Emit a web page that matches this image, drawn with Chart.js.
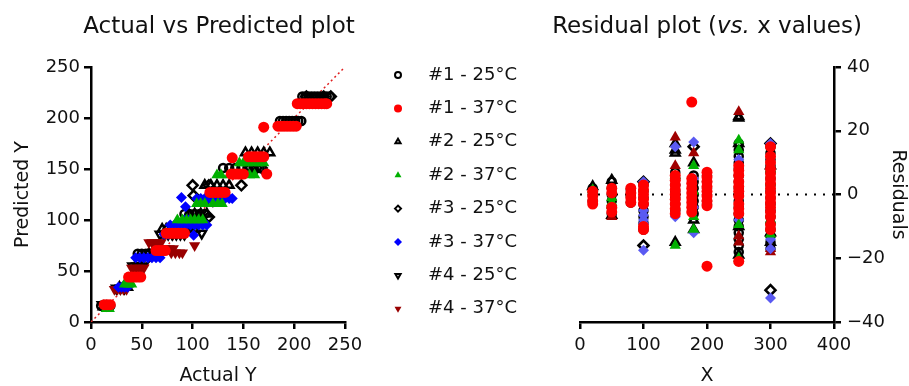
<!DOCTYPE html>
<html>
<head>
<meta charset="utf-8">
<title>Actual vs Predicted / Residuals</title>
<script src="https://cdn.jsdelivr.net/npm/chart.js@4.4.1/dist/chart.umd.min.js"></script>
<style>
  body { margin: 0; background: #fff; font-family: "DejaVu Sans", sans-serif; }
  #wrap { position: relative; width: 909px; height: 386px; overflow: hidden; }
  .plot-title { position: absolute; top: 12px; font-size: 23px; line-height: 27px; color: #111;
                white-space: nowrap; transform: translateX(-50%); }
  #leftBox { position: absolute; left: 0; top: 0; width: 545px; height: 386px; }
  #rightBox { position: absolute; left: 540px; top: 0; width: 369px; height: 386px; }
</style>
</head>
<body>
<div id="wrap">
  <div id="leftBox"><canvas id="avpChart"></canvas></div>
  <div id="rightBox"><canvas id="residualChart"></canvas></div>
  <div class="plot-title" style="left:219px">Actual vs Predicted plot</div>
  <div class="plot-title" style="left:707px">Residual plot (<i>vs.</i> x values)</div>
</div>
<script>
// ===================== data =====================
const seriesNames = ['#1 - 25°C', '#1 - 37°C', '#2 - 25°C', '#2 - 37°C',
                     '#3 - 25°C', '#3 - 37°C', '#4 - 25°C', '#4 - 37°C'];

// actual vs predicted: [predicted, [actual values...]]
const avp1at25 = [[16, [10, 13, 16, 19]], [67, [46, 50, 54, 58]], [106, [92, 97, 102, 107, 112]],
  [151, [130, 136, 142, 148, 154, 160, 166]], [197, [186, 189, 192, 195, 198, 201, 204, 207]],
  [221, [208, 211, 214, 217, 220, 223, 226, 229, 232, 235]]];
const avp1at37 = [[17, [13, 16, 19]], [44, [37, 40, 43, 46, 49]], [70, [64, 67, 70, 73]],
  [87, [74, 77, 80, 83, 86, 89, 92]], [127, [117, 120, 123, 126, 129, 132]], [145, [138, 141, 144, 147, 150]],
  [162, [155, 158, 161, 164, 167, 170]], [192, [184, 187, 190, 193, 196, 199, 202]],
  [214, [203, 206, 209, 212, 215, 218, 221, 224, 227, 230, 232]], [161, [139]], [145, [173]], [191, [170]]];
const avp2at25 = [[15, [12, 15]], [34, [28, 32, 36]], [91, [70, 74, 78, 82, 86, 90, 94, 98, 102]],
  [106, [96, 102, 108, 114]], [134, [112, 118, 124, 130, 136]], [166, [152, 158, 164, 170, 176]]];
const avp2at37 = [[13, [15, 18]], [37, [33, 37, 40]], [100, [85, 90, 94, 98, 102, 106, 110]],
  [116, [104, 108, 112, 120, 125, 129]], [144, [124, 128, 136, 156, 161]], [156, [146, 150, 154, 160, 166, 170]]];
const avp3at25 = [[60, [48, 53]], [67, [57, 62, 66]], [134, [100, 116, 148]], [124, [101]], [103, [116]],
  [151, [157, 163, 168]], [221, [212, 229, 236]]];
const avp3at37 = [[34, [27, 30, 33, 36]], [63, [44, 48, 52, 56, 60, 64, 68]], [86, [72, 76]],
  [95, [78, 82, 86, 90, 94, 98, 102, 106, 110, 114]], [100, [92, 96]],
  [121, [104, 108, 112, 116, 120, 124, 128, 132, 136, 139]], [122, [89]], [113, [93]], [85, [101]]];
const avp4at25 = [[17, [11, 15]], [33, [25, 29, 33]], [55, [41, 45, 49]], [86, [68, 72, 76, 80, 84, 88, 92]],
  [87, [109]], [119, [108, 114, 120]]];
const avp4at37 = [[32, [23, 26, 29, 32, 35]], [53, [40, 43, 46, 49, 52]], [78, [57, 60, 63, 66, 69]],
  [72, [73, 77, 81]], [68, [79, 83, 87, 90]], [75, [102]]];

// residuals: [x, [residual values...]]
const res1at25 = [[20, [2, 0, -2]], [50, [4, 2, 0, -2, -4, -6]], [80, [1.5, -0.5, -2.5]],
  [100, [3, 1, -1, -3, -5, -7, -9, -11]], [150, [7, 5, 3, 1, -1, -3, -5]], [179, [6, 4, 2, 0, -2, -4, -6]],
  [200, [6, 4, 2, 0, -2, -3]],
  [250, [16, 14, 12, 10, 8, 6, 4, 2, 0, -2, -4, -6, -8, -10, -12, -14, -16, -18]],
  [300, [15, 13, 11, 9, 7, 5, 3, 1, -1, -3, -5, -7, -9, -11, -13, -15, -17]]];
const res1at37 = [[20, [1, -0.5, -2, -3]], [50, [2, 0.5, -4, -5.5]], [80, [2, 0.5, -1, -2.5]],
  [100, [3, 1.5, 0, -1.5, -3, -10, -11]], [150, [6, 4.5, 3, 1.5, 0, -1.5, -3, -4.5, -6]],
  [176, [29, 5, 3.5, 2, 0.5, -1, -2.5, -4, -5.5]], [200, [7, 5.5, 4, 2.5, 1, -0.5, -2, -3.5, -22.5]],
  [250, [9, 7.5, 6, 4, 2.5, 1, -0.5, -3, -4.5, -6, -21]],
  [300, [15, 12, 10, 8, 6.5, 5, 3.5, 2, 0.5, -1, -2.5, -4, -5.5, -7, -9.5, -11]]];
const res2at25 = [[20, [2.5]], [50, [4.5, -6.5]], [150, [16, 14, -15]], [179, [10, -8, -11]],
  [250, [24, 16, -10, -19]], [300, [9, -12]]];
const res2at37 = [[20, [1.5]], [50, [-1, -2.5, -3.5]], [150, [6, -16]], [179, [9, 1, -7, -11]],
  [250, [17, 14, -9.5, -20]], [300, [8, 4, -6, -8, -12.5]]];
const res3at25 = [[100, [4, -16]], [179, [15]], [300, [16, -30]]];
const res3at37 = [[100, [4, -3.5, -5, -6.5, -8, -9, -17.5]], [150, [15, 3, -7]], [179, [16.5, 5, -4, -12]],
  [250, [11, -8]], [300, [16, -14, -17, -32.5]]];
const res4at25 = [[150, [13]], [250, [24.5]], [300, [-15]]];
const res4at37 = [[50, [-7]], [150, [18, 9]], [179, [13]], [250, [26, -13, -15]], [300, [-17, -18]]];

const avpSeries = [avp1at25, avp1at37, avp2at25, avp2at37, avp3at25, avp3at37, avp4at25, avp4at37];
const resSeries = [res1at25, res1at37, res2at25, res2at37, res3at25, res3at37, res4at25, res4at37];

// ===================== styles =====================
const clear = 'rgba(0,0,0,0)';
const markerStyles = [
  { pointStyle: 'circle',   rotation: 0,   fill: clear,     border: '#000',    bw: 2.5, r: 4,   order: 8 },
  { pointStyle: 'circle',   rotation: 0,   fill: '#ff0000', border: '#ff0000', bw: 0,   r: 5.5, order: 1 },
  { pointStyle: 'triangle', rotation: 0,   fill: clear,     border: '#000',    bw: 2.5, r: 5,   order: 7 },
  { pointStyle: 'triangle', rotation: 0,   fill: '#00b000', border: '#00b000', bw: 0,   r: 6.5, order: 2 },
  { pointStyle: 'rectRot',  rotation: 0,   fill: clear,     border: '#000',    bw: 2.5, r: 5,   order: 6 },
  { pointStyle: 'rectRot',  rotation: 0,   fill: '#0000ff', border: '#0000ff', bw: 0,   r: 5.5, order: 3 },
  { pointStyle: 'triangle', rotation: 180, fill: clear,     border: '#000',    bw: 2.5, r: 5,   order: 5 },
  { pointStyle: 'triangle', rotation: 180, fill: '#990000', border: '#990000', bw: 0,   r: 6.5, order: 4 }
];

Chart.defaults.font.family = '"DejaVu Sans", sans-serif';
Chart.defaults.color = '#111';

function toPointsAvp(bands) {
  const pts = [];
  bands.forEach(([pred, actuals]) => actuals.forEach(a => pts.push({ x: a, y: pred })));
  return pts;
}

function toPointsRes(cols) {
  const pts = [];
  cols.forEach(([x, vals]) => vals.forEach(v => pts.push({ x: x, y: v })));
  return pts;
}

function makeDataset(i, points, overrides) {
  const s = Object.assign({}, markerStyles[i], overrides || {});
  return {
    label: seriesNames[i],
    data: points,
    pointStyle: s.pointStyle,
    rotation: s.rotation,
    backgroundColor: s.fill,
    borderColor: s.border,
    borderWidth: s.bw,
    pointRadius: s.r,
    pointHoverRadius: s.r,
    order: s.order
  };
}

function axis(opts) {
  return Object.assign({
    type: 'linear',
    grid: { drawOnChartArea: false, color: '#000', lineWidth: 2.5, tickLength: 7, tickWidth: 2.5 },
    border: { color: '#000', width: 2.5 },
  }, opts);
}

// legend drawn beside the left plot
const sideLegend = {
  id: 'sideLegend',
  afterDraw(chart) {
    const ctx = chart.ctx;
    ctx.save();
    ctx.font = '18px "DejaVu Sans", sans-serif';
    ctx.textBaseline = 'middle';
    seriesNames.forEach((name, i) => {
      const s = markerStyles[i];
      const y = 75 + i * 33.4;
      ctx.fillStyle = s.fill;
      ctx.strokeStyle = s.border;
      ctx.lineWidth = s.bw ? 2 : 0;
      Chart.helpers.drawPoint(ctx, {
        pointStyle: s.pointStyle, rotation: s.rotation,
        radius: s.bw ? 3 : 4, borderWidth: s.bw ? 2 : 0
      }, 398, y);
      ctx.fillStyle = '#111';
      ctx.fillText(name, 428, y);
    });
    ctx.restore();
  }
};

// ===================== actual vs predicted =====================
const avpDatasets = avpSeries.map((bands, i) => makeDataset(i, toPointsAvp(bands)));
avpDatasets.push({
  type: 'line',
  label: 'identity',
  data: [{ x: 0, y: 0 }, { x: 250, y: 250 }],
  borderColor: '#e02020',
  borderWidth: 1.5,
  borderDash: [2, 3],
  pointRadius: 0,
  order: 20
});

new Chart(document.getElementById('avpChart'), {
  type: 'scatter',
  data: { datasets: avpDatasets },
  options: {
    responsive: true,
    maintainAspectRatio: false,
    animation: false,
    layout: { padding: { left: 0, top: 67, right: 200, bottom: 0 } },
    plugins: { legend: { display: false }, tooltip: { enabled: false } },
    scales: {
      x: axis({
        min: 0, max: 250,
        ticks: { stepSize: 50, font: { size: 18 }, padding: 6 },
        title: { display: true, text: 'Actual Y', font: { size: 19, lineHeight: 1 }, padding: 0 },
        afterFit: s => { s.height = 64; }
      }),
      y: axis({
        min: 0, max: 250,
        ticks: { stepSize: 50, font: { size: 18 }, padding: 4 },
        title: { display: true, text: 'Predicted Y', font: { size: 19 }, padding: { top: 12, bottom: 0 } },
        afterFit: s => { s.width = 91; }
      })
    }
  },
  plugins: [sideLegend]
});

// ===================== residuals =====================
const resDatasets = resSeries.map((cols, i) => {
  let overrides;
  if (i === 5) overrides = { fill: '#5a5af2', border: '#5a5af2' };
  if (i === 6) overrides = { rotation: 0 };
  if (i === 7) overrides = { rotation: 0, fill: '#a00000', border: '#a00000' };
  return makeDataset(i, toPointsRes(cols), overrides);
});
resDatasets.push({
  type: 'line',
  label: 'zero',
  data: [{ x: 0, y: 0 }, { x: 400, y: 0 }],
  borderColor: '#000',
  borderWidth: 2,
  borderDash: [2, 7],
  pointRadius: 0,
  order: 20
});

new Chart(document.getElementById('residualChart'), {
  type: 'scatter',
  data: { datasets: resDatasets },
  options: {
    responsive: true,
    maintainAspectRatio: false,
    animation: false,
    layout: { padding: { left: 40, top: 67, right: 0, bottom: 0 } },
    plugins: { legend: { display: false }, tooltip: { enabled: false } },
    scales: {
      x: axis({
        min: 0, max: 400,
        ticks: { stepSize: 100, font: { size: 18 }, padding: 6 },
        title: { display: true, text: 'X', font: { size: 19, lineHeight: 1 }, padding: 0 },
        afterFit: s => { s.height = 64; }
      }),
      y: axis({
        position: 'right',
        min: -40, max: 40,
        ticks: {
          stepSize: 20, font: { size: 18 }, padding: 6,
          callback: v => String(v).replace('-', '\u2212')
        },
        title: { display: true, text: 'Residuals', font: { size: 19 }, padding: 0 },
        afterFit: s => { s.width = 75; }
      })
    }
  }
});
</script>
</body>
</html>
